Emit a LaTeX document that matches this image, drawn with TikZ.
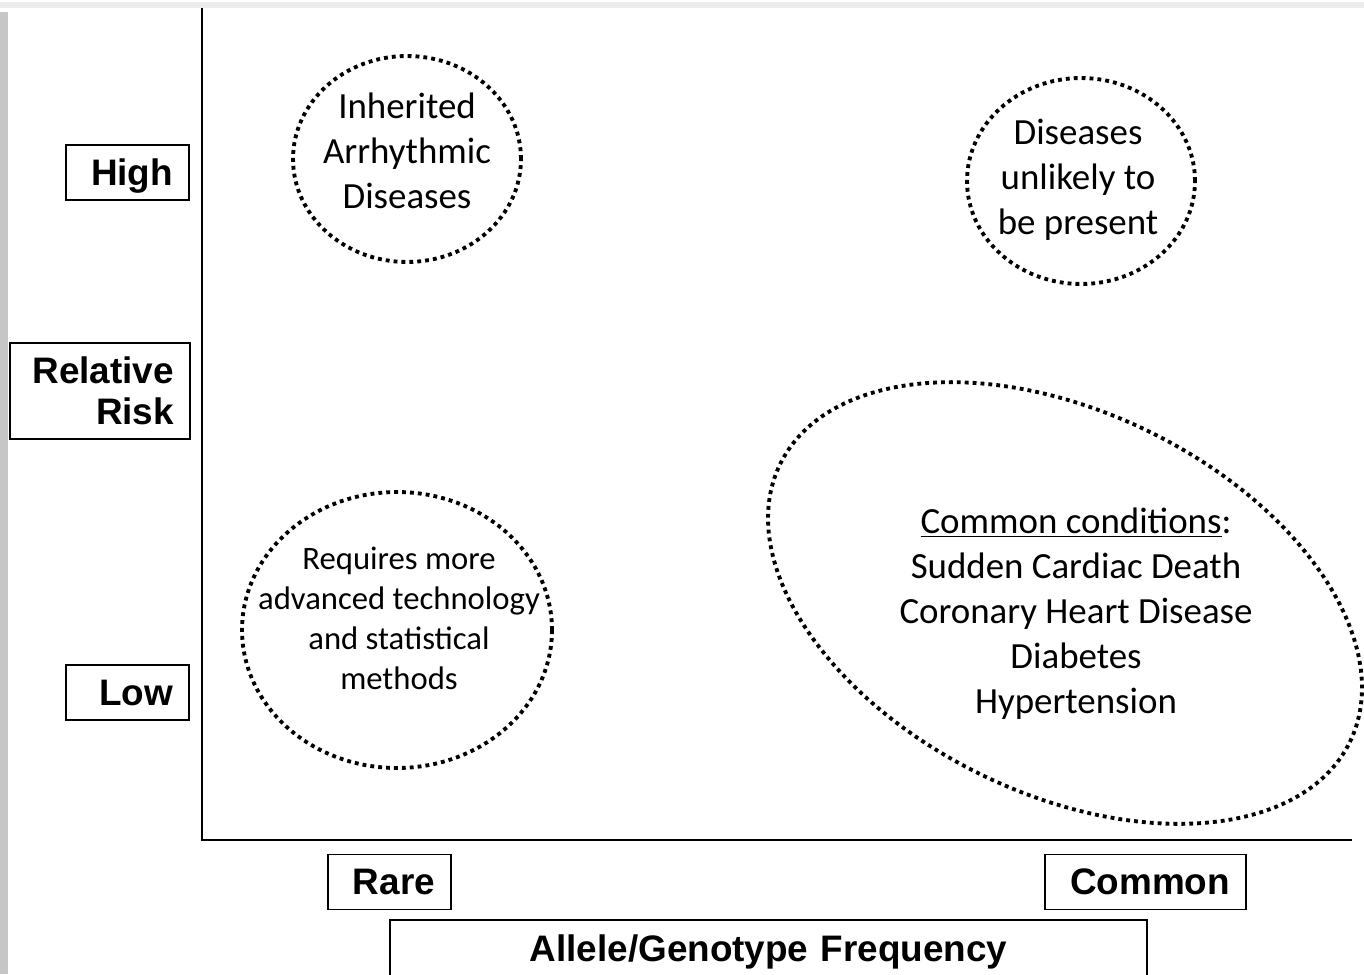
\documentclass[tikz,border=0pt]{standalone}
\usepackage{fontspec}
\setmainfont{Carlito}
\newfontfamily\arialfont{Liberation Sans}
\usetikzlibrary{shapes.geometric}
\tikzset{
  axislabel/.style={draw,line width=1.1pt,font=\arialfont\bfseries\fontsize{21}{23}\selectfont,
    align=right,inner xsep=0.32cm,inner ysep=0pt,minimum height=1.1cm},
  dotline/.style={line width=2.2pt,dash pattern=on 2.2pt off 2.3pt},
  dotring/.style={draw,ellipse,dotline,inner sep=0pt},
  ringtext/.style={font=\fontsize{21}{25.6}\selectfont,align=center,inner sep=0pt},
  smalltext/.style={font=\fontsize{18.6}{22.8}\selectfont,align=center,inner sep=0pt},
}
\begin{document}
\begin{tikzpicture}[x=0.02cm,y=-0.02cm]
\useasboundingbox (0,0) rectangle (1364,974);
\clip (0,0) rectangle (1364,974);
% screenshot edges
\draw[gray!15,line width=3pt] (0,5) -- (1364,5);
\fill[gray!45] (0,12) rectangle (8,974);

% axes
\coordinate (ytop) at (202,8);
\coordinate (origin) at (202,840);
\coordinate (xend) at (1352,840);
\draw[line width=1.1pt] (ytop) -- (origin) -- (xend);

% axis labels
\node[axislabel,text width=1.82cm,text depth=0pt] (high) at (127.5,172.5) {High};
\node[axislabel,text width=2.96cm,minimum height=1.92cm] (relrisk) at (100,391) {Relative\\Risk};
\node[axislabel,text width=1.82cm,text depth=0pt] (low) at (127.5,692.5) {Low};
\node[axislabel,text width=1.82cm,text depth=0pt] (rare) at (389.5,882) {Rare};
\node[axislabel,text width=3.38cm,text depth=0pt] (common) at (1145.5,882) {Common};
\node[axislabel,text width=14.5cm,align=center,minimum height=1.12cm,text depth=0pt] (freq) at (768.5,948) {Allele/Genotype Frequency};

% groups
\node[dotring,minimum width=4.56cm,minimum height=4.12cm] (inherited) at (407,159) {};
\node[ringtext] (inheritedtext) at (407,151) {Inherited\\Arrhythmic\\Diseases};
\node[dotring,minimum width=4.56cm,minimum height=4.12cm] (unlikely) at (1081,181) {};
\node[ringtext] (unlikelytext) at (1078,180) {Diseases\\unlikely to\\be present};
\node[dotring,minimum width=6.2cm,minimum height=5.52cm] (advanced) at (397,630) {};
\node[smalltext] (advancedtext) at (399,618) {Requires more\\advanced technology\\and statistical\\methods};
\draw[dotline,rotate around={-26:(1065,603)}]
  (1065,603) ellipse [x radius=6.34cm,y radius=3.82cm];
\node[ringtext] (commontext) at (1076,614) {\underline{Common conditions}:\\Sudden Cardiac Death\\Coronary Heart Disease\\Diabetes\\Hypertension};
\end{tikzpicture}
\end{document}
